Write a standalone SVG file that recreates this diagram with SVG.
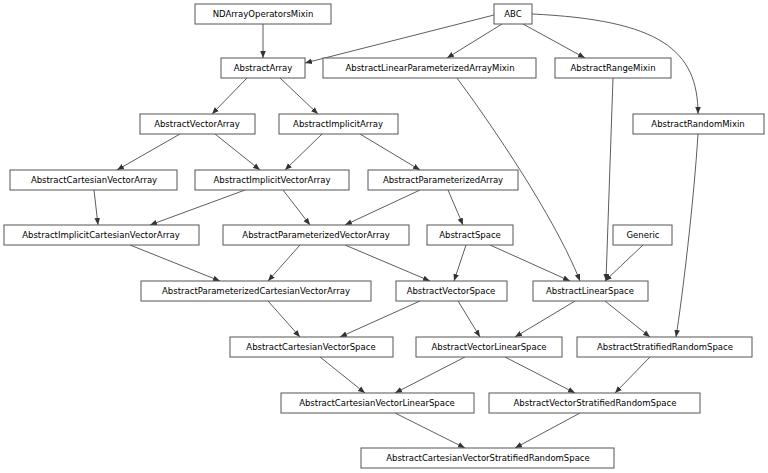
<svg xmlns="http://www.w3.org/2000/svg" width="768" height="473" viewBox="0 0 768 473">
<style>
rect{fill:#fff;stroke:#555;stroke-width:1}
text{font-family:"DejaVu Sans",sans-serif;font-size:8.5px;text-anchor:middle;fill:#000}
#edges path{fill:none;stroke:#333;stroke-width:0.8;marker-end:url(#a)}
</style>
<defs><marker id="a" viewBox="0 0 10 10" refX="10" refY="5" markerWidth="7" markerHeight="7" markerUnits="userSpaceOnUse" orient="auto"><path d="M0,1L10,5L0,9z" fill="#333"/></marker></defs>
<rect x="0" y="0" width="768" height="473" style="fill:#fff;stroke:none"/>
<g id="edges">
<path d="M263,24V58"/>
<path d="M494,15L305,63"/>
<path d="M502,24L447,58"/>
<path d="M523,24L585,58"/>
<path d="M532,14C660,20 698,50 698,114"/>
<path d="M247,78L212,114"/>
<path d="M280,78L318,114"/>
<path d="M180,134L117,170"/>
<path d="M215,134L260,170"/>
<path d="M322,134L285,170"/>
<path d="M360,134L420,170"/>
<path d="M94,190L98,225"/>
<path d="M245,190L150,225"/>
<path d="M283,190L310,225"/>
<path d="M420,190L345,225"/>
<path d="M448,190L463,225"/>
<path d="M130,245L220,281"/>
<path d="M300,245L268,281"/>
<path d="M345,245L430,281"/>
<path d="M466,245L454,281"/>
<path d="M490,245L570,281"/>
<path d="M643,245L605,281"/>
<path d="M457,78C510,150 560,230 580,281"/>
<path d="M613,78L606,281"/>
<path d="M268,301L300,337"/>
<path d="M420,301L340,337"/>
<path d="M458,301L480,337"/>
<path d="M575,301L515,337"/>
<path d="M605,301L650,337"/>
<path d="M698,134C694,200 682,300 676,337"/>
<path d="M320,357L365,393"/>
<path d="M465,357L395,393"/>
<path d="M505,357L575,393"/>
<path d="M650,357L615,393"/>
<path d="M395,413L465,448"/>
<path d="M580,413L515,448"/>
</g>
<g id="NDArrayOperatorsMixin"><rect x="195" y="4" width="136" height="20"/><text x="263" y="17">NDArrayOperatorsMixin</text></g>
<g id="ABC"><rect x="494" y="4" width="38" height="20"/><text x="513" y="17">ABC</text></g>
<g id="AbstractArray"><rect x="221" y="58" width="84" height="20"/><text x="263" y="71">AbstractArray</text></g>
<g id="AbstractLinearParameterizedArrayMixin"><rect x="323" y="58" width="213" height="20"/><text x="430" y="71">AbstractLinearParameterizedArrayMixin</text></g>
<g id="AbstractRangeMixin"><rect x="555" y="58" width="116" height="20"/><text x="613" y="71">AbstractRangeMixin</text></g>
<g id="AbstractRandomMixin"><rect x="633" y="114" width="131" height="20"/><text x="698" y="127">AbstractRandomMixin</text></g>
<g id="AbstractVectorArray"><rect x="140" y="114" width="115" height="20"/><text x="197" y="127">AbstractVectorArray</text></g>
<g id="AbstractImplicitArray"><rect x="279" y="114" width="119" height="20"/><text x="338" y="127">AbstractImplicitArray</text></g>
<g id="AbstractCartesianVectorArray"><rect x="10" y="170" width="167" height="20"/><text x="94" y="183">AbstractCartesianVectorArray</text></g>
<g id="AbstractImplicitVectorArray"><rect x="195" y="170" width="154" height="20"/><text x="272" y="183">AbstractImplicitVectorArray</text></g>
<g id="AbstractParameterizedArray"><rect x="368" y="170" width="150" height="20"/><text x="443" y="183">AbstractParameterizedArray</text></g>
<g id="AbstractImplicitCartesianVectorArray"><rect x="4" y="225" width="195" height="20"/><text x="101" y="238">AbstractImplicitCartesianVectorArray</text></g>
<g id="AbstractParameterizedVectorArray"><rect x="223" y="225" width="186" height="20"/><text x="316" y="238">AbstractParameterizedVectorArray</text></g>
<g id="AbstractSpace"><rect x="427" y="225" width="86" height="20"/><text x="470" y="238">AbstractSpace</text></g>
<g id="Generic"><rect x="613" y="225" width="59" height="20"/><text x="643" y="238">Generic</text></g>
<g id="AbstractParameterizedCartesianVectorArray"><rect x="141" y="281" width="230" height="20"/><text x="256" y="294">AbstractParameterizedCartesianVectorArray</text></g>
<g id="AbstractVectorSpace"><rect x="396" y="281" width="111" height="20"/><text x="451" y="294">AbstractVectorSpace</text></g>
<g id="AbstractLinearSpace"><rect x="533" y="281" width="115" height="20"/><text x="590" y="294">AbstractLinearSpace</text></g>
<g id="AbstractCartesianVectorSpace"><rect x="230" y="337" width="163" height="20"/><text x="311" y="350">AbstractCartesianVectorSpace</text></g>
<g id="AbstractVectorLinearSpace"><rect x="416" y="337" width="146" height="20"/><text x="489" y="350">AbstractVectorLinearSpace</text></g>
<g id="AbstractStratifiedRandomSpace"><rect x="577" y="337" width="175" height="20"/><text x="665" y="350">AbstractStratifiedRandomSpace</text></g>
<g id="AbstractCartesianVectorLinearSpace"><rect x="281" y="393" width="193" height="20"/><text x="377" y="406">AbstractCartesianVectorLinearSpace</text></g>
<g id="AbstractVectorStratifiedRandomSpace"><rect x="489" y="393" width="211" height="20"/><text x="595" y="406">AbstractVectorStratifiedRandomSpace</text></g>
<g id="AbstractCartesianVectorStratifiedRandomSpace"><rect x="361" y="448" width="253" height="20"/><text x="488" y="461">AbstractCartesianVectorStratifiedRandomSpace</text></g>
</svg>
